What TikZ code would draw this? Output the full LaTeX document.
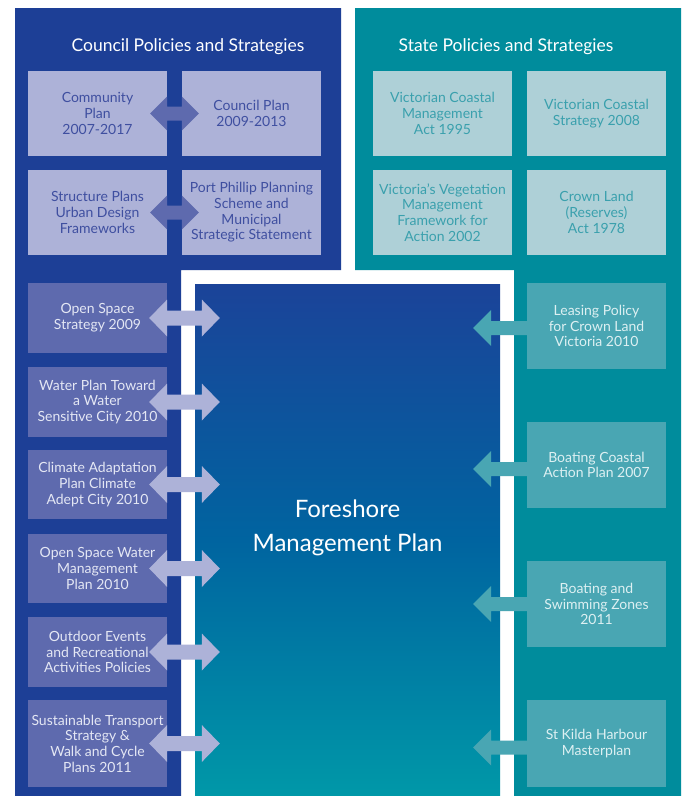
\documentclass[tikz,border=0pt]{standalone}
\usepackage{fontspec}
\setmainfont{Lato}
\usetikzlibrary{calc}
\definecolor{navy}{HTML}{1D3F96}
\definecolor{tealp}{HTML}{008C9C}
\definecolor{lilac}{HTML}{ADB2D8}
\definecolor{midblue}{HTML}{5E6AAE}
\definecolor{paleteal}{HTML}{AED0D7}
\definecolor{midteal}{HTML}{49A6B3}
\definecolor{txtblue}{HTML}{3F4FA0}
\definecolor{txtteal}{HTML}{3AA0AD}
\definecolor{txtlight}{HTML}{E4E7F4}
\definecolor{txtlteal}{HTML}{DDF0F2}
\definecolor{gradtop}{HTML}{1B4399}
\definecolor{gradmid}{HTML}{0064A0}
\definecolor{gradbot}{HTML}{0098A8}
\newcommand\dblarrow[8]{%
  \fill[#3] let \p1=(#1.east), \p2=(#2.west) in
  (\x1-#4pt,\y1) -- (\x1,\y1+#7pt) -- (\x1,\y1+#8pt) -- (\x2+#5pt,\y1+#8pt) --
  (\x2+#5pt,\y1+#7pt) -- (\x2+#5pt+#6pt,\y1) -- (\x2+#5pt,\y1-#7pt) --
  (\x2+#5pt,\y1-#8pt) -- (\x1,\y1-#8pt) -- (\x1,\y1-#7pt) -- cycle;}
\newcommand\sglarrow[4]{%
  \fill[#3] let \p1=(#1.west), \p2=(#2.east) in
  (\x1,\y1-#4pt+7pt) -- (\x2-9pt,\y1-#4pt+7pt) -- (\x2-9pt,\y1-#4pt+18pt) -- (\x2-27pt,\y1-#4pt) --
  (\x2-9pt,\y1-#4pt-18pt) -- (\x2-9pt,\y1-#4pt-7pt) -- (\x1,\y1-#4pt-7pt) -- cycle;}
\begin{document}
\begin{tikzpicture}[x=1pt,y=-1pt,
  box/.style={rectangle, inner sep=0pt, align=center, font=\fontsize{14}{15.7}\selectfont},
  tlbox/.style={box, fill=lilac, text=txtblue, minimum width=139pt, minimum height=85pt},
  trbox/.style={box, fill=paleteal, text=txtteal, minimum width=139pt, minimum height=85pt},
  lcbox/.style={box, fill=midblue, text=txtlight, minimum width=139pt},
  rcbox/.style={box, fill=midteal, text=txtlteal, minimum width=139pt, minimum height=86pt},
  heading/.style={text=white, font=\fontsize{17.5}{20}\selectfont, inner sep=0pt},
  toparrow/.style={fill=midblue},
  colarrow/.style={fill=lilac},
  rarrow/.style={fill=midteal}]
\useasboundingbox (0,0) rectangle (686,796);
\fill[white] (0,0) rectangle (686,796);
% panels
\fill[navy] (15,8) -- (341,8) -- (341,270) -- (181,270) -- (181,796) -- (15,796) -- cycle;
\fill[tealp] (355,8) -- (681,8) -- (681,796) -- (514,796) -- (514,270) -- (355,270) -- cycle;
% centre
\node[inner sep=0pt, minimum width=305pt, minimum height=512pt,
  top color=gradtop, bottom color=gradbot, middle color=gradmid] (fmp) at (347.5,540) {};
\node[text=white, align=center, inner sep=0pt, font=\fontsize{24}{34}\selectfont] (fmpt) at (347.5,528) {Foreshore\\Management Plan};
% headings
\node[heading] (hc) at (188,47) {Council Policies and Strategies};
\node[heading] (hs) at (506,47) {State Policies and Strategies};
% top-left boxes
\node[tlbox] (a1) at (97.5,113.5) {Community\\Plan\\2007-2017};
\node[tlbox] (a2) at (251.5,113.5) {Council Plan\\2009-2013};
\node[tlbox] (a3) at (97.5,212.5) {Structure Plans\\Urban Design\\Frameworks};
\node[tlbox] (a4) at (251.5,212.5) {Port Phillip Planning\\Scheme and\\Municipal\\Strategic Statement};
% top-right boxes
\node[trbox] (s1) at (442.5,113.5) {Victorian Coastal\\Management\\Act 1995};
\node[trbox] (s2) at (596.5,113.5) {Victorian Coastal\\Strategy 2008};
\node[trbox] (s3) at (442.5,212.5) {Victoria's Vegetation\\Management\\Framework for\\Action 2002};
\node[trbox] (s4) at (596.5,212.5) {Crown Land\\(Reserves)\\Act 1978};
% left column
\node[lcbox, minimum height=70pt] (l1) at (97.5,318) {Open Space\\Strategy 2009};
\node[lcbox, minimum height=70pt] (l2) at (97.5,402) {Water Plan Toward\\a Water\\Sensitive City 2010};
\node[lcbox, minimum height=69pt] (l3) at (97.5,484.5) {Climate Adaptation\\Plan Climate\\Adept City 2010};
\node[lcbox, minimum height=69pt] (l4) at (97.5,568.5) {Open Space Water\\Management\\Plan 2010};
\node[lcbox, minimum height=70pt] (l5) at (97.5,652) {Outdoor Events\\and Recreational\\Activities Policies};
\node[lcbox, minimum height=87pt] (l6) at (97.5,743.5) {Sustainable Transport\\Strategy \&\\Walk and Cycle\\Plans 2011};
% right column
\node[rcbox] (r1) at (596.5,326) {Leasing Policy\\for Crown Land\\Victoria 2010};
\node[rcbox] (r2) at (596.5,465) {Boating Coastal\\Action Plan 2007};
\node[rcbox] (r3) at (596.5,604) {Boating and\\Swimming Zones\\2011};
\node[rcbox, minimum height=87pt] (r4) at (596.5,743.5) {St Kilda Harbour\\Masterplan};
% arrows
\dblarrow{a1}{a2}{toparrow}{17}{0}{17}{17}{7}
\dblarrow{a3}{a4}{toparrow}{17}{0}{17}{17}{7}
\foreach \bx in {l1,l2,l3,l4,l5,l6}{\dblarrow{\bx}{fmp}{colarrow}{18}{7}{18}{18.5}{7.5}}
\sglarrow{r1}{fmp}{rarrow}{2}
\sglarrow{r2}{fmp}{rarrow}{4}
\sglarrow{r3}{fmp}{rarrow}{0}
\sglarrow{r4}{fmp}{rarrow}{4}
\end{tikzpicture}
\end{document}
